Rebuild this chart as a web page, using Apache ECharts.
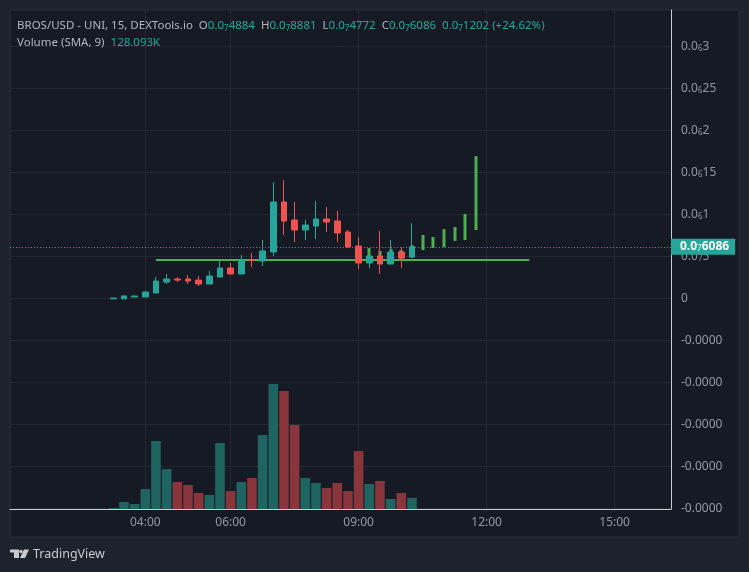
<!DOCTYPE html>
<html>
<head>
<meta charset="utf-8">
<style>html,body{margin:0;padding:0;background:#1e222d}#chart{width:749px;height:572px}</style>
<script src="https://cdn.jsdelivr.net/npm/echarts@6/dist/echarts.min.js"></script>
</head>
<body>
<div id="chart"></div>
<script>
// prices are in units of 1e-7 USD, volume in K
const times = ['03:15','03:30','03:45','04:00','04:15','04:30','04:45','05:00','05:15','05:30',
  '05:45','06:00','06:15','06:30','06:45','07:00','07:15','07:30','07:45','08:00',
  '08:15','08:30','08:45','09:00','09:15','09:30','09:45','10:00','10:15'];
const opens = [-0.1,-0.1,0.12,0.12,0.6,1.9,2.26,2.26,2.14,1.67,2.5,3.57,2.86,4.52,4.4,5.48,11.43,9.29,8.1,8.57,9.4,9.17,7.86,6.19,4.17,5.0,4.05,5.48,4.884];
const closes = [0,0.25,0.24,0.71,2.02,2.26,2.14,2.02,1.67,2.62,3.57,2.86,4.52,4.45,5.6,11.43,9.17,8.1,8.69,9.4,9.05,7.74,6.07,4.17,5.0,4.05,5.48,4.76,6.086];
const lows = [-0.1,-0.1,0.12,0.12,0.6,1.67,1.9,1.67,1.43,1.67,2.5,2.86,2.86,3.69,3.8,5.0,7.5,6.67,6.9,7.0,7.86,6.67,6.0,3.45,3.57,2.86,4.05,3.57,4.772];
const highs = [0,0.25,0.24,0.87,2.5,2.86,2.5,2.74,2.62,3.21,4.4,4.17,5.12,5.36,6.9,13.8,14.05,11.43,9.29,11.55,10.83,10.36,8.1,7.26,5.0,7.98,6.9,6.03,8.881];
const volumes = [5,38,27,108,368,216,146,130,87,76,357,97,146,168,400,676,639,455,168,141,114,141,97,314,135,152,54,87,60];

const greenTimes = ['09:15','09:30','09:45','10:00','10:15','10:30','10:45','11:00','11:15','11:30','11:45'];
const greenBottoms = [4.6,4.6,4.8,4.5,4.8,5.7,5.95,6.07,6.8,6.9,8.1];
const greenTops = [5.95,5.6,5.83,5.7,6.3,7.5,7.26,8.2,8.45,10.0,16.9];

const levelTimes = ['04:15','13:00'];
const levelValue = 4.52;
const lastPrice = 6.086;

const yTicks = [30,25,20,15,10,5,0,-5,-10,-15,-20,-25];
const yTickLabels = ['0.0{s|6}3','0.0{s|6}25','0.0{s|6}2','0.0{s|6}15','0.0{s|6}1','0.0{s|7}5','0','-0.0000','-0.0000','-0.0000','-0.0000','-0.0000'];
const xTickLabels = ['04:00','06:00','09:00','12:00','15:00'];

const UP = '#26a69a', DOWN = '#ef5350', GREEN = '#4caf50';
const VOL_UP = '#206462', VOL_DOWN = '#88363c';
const TEXT = '#b2b5be', AXIS_TEXT = '#9598a1', GRID = '#242833', FONT = '"Noto Sans", sans-serif';

const minutes = t => { const p = t.split(':'); return p[0] * 60 + +p[1]; };
const hhmm = m => String(Math.floor(m / 60)).padStart(2, '0') + ':' + String(m % 60).padStart(2, '0');

const chart = echarts.init(document.getElementById('chart'));

const sub = { fontSize: 8, fontWeight: 'normal', fontFamily: FONT, color: UP, verticalAlign: 'bottom', lineHeight: 14 };
const gray = { fontSize: 11.5, fontWeight: 'normal', fontFamily: FONT, color: TEXT, lineHeight: 14 };
const teal = { fontSize: 11.5, fontWeight: 'normal', fontFamily: FONT, color: UP, lineHeight: 14 };

chart.setOption({
  animation: false,
  backgroundColor: '#1e222d',
  title: [
    {
      left: 17, top: 19, padding: 0,
      text: '{g|BROS/USD - UNI, 15, DEXTools.io  O}{t|0.0}{s|7}{t|4884}{g|  H}{t|0.0}{s|7}{t|8881}{g|  L}{t|0.0}{s|7}{t|4772}{g|  C}{t|0.0}{s|7}{t|6086}{t|  0.0}{s|7}{t|1202 (+24.62%)}',
      textStyle: { rich: { g: gray, t: teal, s: sub } }
    },
    {
      left: 17, top: 36, padding: 0,
      text: '{g|Volume (SMA, 9)}{t|  128.093K}',
      textStyle: { rich: { g: gray, t: teal } }
    }
  ],
  grid: { left: 10, right: 78, top: 10, bottom: 63 },
  xAxis: {
    type: 'value',
    min: 49.7,
    max: 979.3,
    axisLine: { show: true, onZero: false, lineStyle: { color: '#c8cad0', width: 1 } },
    axisTick: { show: false, customValues: xTickLabels.map(minutes) },
    axisLabel: {
      customValues: xTickLabels.map(minutes),
      formatter: v => hhmm(v),
      color: AXIS_TEXT, fontSize: 12, fontFamily: FONT, margin: 8
    },
    splitLine: { show: true, lineStyle: { color: GRID, width: 1 } }
  },
  yAxis: [
    {
      type: 'value',
      position: 'right',
      min: -25.12,
      max: 34.29,
      axisLine: { show: true, onZero: false, lineStyle: { color: '#c8cad0', width: 1 } },
      axisTick: { show: false, customValues: yTicks },
      axisLabel: {
        customValues: yTicks,
        formatter: v => yTickLabels[yTicks.indexOf(v)],
        color: AXIS_TEXT, fontSize: 12, fontFamily: FONT, margin: 10, padding: [2, 0, 0, 0],
        rich: { s: { fontSize: 8, fontFamily: FONT, color: AXIS_TEXT, verticalAlign: 'bottom' } }
      },
      splitLine: { show: true, lineStyle: { color: GRID, width: 1 } }
    },
    { type: 'value', min: 0, max: 2700, show: false, splitLine: { show: false } }
  ],
  series: [
    {
      type: 'bar',
      yAxisIndex: 1,
      barWidth: 9.6,
      z: 2,
      data: times.map((t, i) => ({
        value: [minutes(t), volumes[i]],
        itemStyle: { color: closes[i] >= opens[i] ? VOL_UP : VOL_DOWN }
      }))
    },
    {
      type: 'line',
      showSymbol: false,
      z: 3,
      lineStyle: { color: GREEN, width: 2 },
      data: levelTimes.map(t => [minutes(t), levelValue])
    },
    {
      type: 'candlestick',
      barWidth: 3.5,
      z: 4,
      itemStyle: { color: GREEN, color0: GREEN, borderColor: GREEN, borderColor0: GREEN, borderWidth: 0 },
      data: greenTimes.map((t, i) => [minutes(t), greenBottoms[i], greenTops[i], greenBottoms[i], greenTops[i]])
    },
    {
      type: 'candlestick',
      barWidth: 6,
      z: 5,
      itemStyle: { color: UP, color0: DOWN, borderColor: UP, borderColor0: DOWN, borderWidth: 1 },
      data: times.map((t, i) => [minutes(t), opens[i], closes[i], lows[i], highs[i]]),
      markLine: {
        silent: true,
        symbol: 'none',
        z: 6,
        lineStyle: { color: UP, type: [1, 2], width: 1 },
        label: {
          position: 'end',
          distance: 0,
          formatter: '{v|0.0}{s|7}{v|6086}',
          backgroundColor: UP,
          padding: [2, 6, 2, 9],
          rich: {
            v: { color: '#fff', fontSize: 12, fontFamily: FONT, fontWeight: 'bold' },
            s: { color: '#fff', fontSize: 8, fontFamily: FONT, verticalAlign: 'bottom' }
          }
        },
        data: [{ yAxis: lastPrice }]
      }
    }
  ],
  graphic: [
    {
      type: 'rect', z: -1, silent: true,
      shape: { x: 10, y: 10, width: 729, height: 527 },
      style: { fill: '#161a25', stroke: '#2a2e39', lineWidth: 1 }
    },
    {
      type: 'polygon', silent: true,
      shape: { points: [[10, 549.5], [19, 549.5], [19, 558], [14, 558], [14, 552.5], [10, 552.5]] },
      style: { fill: '#c8cad0' }
    },
    {
      type: 'circle', silent: true,
      shape: { cx: 21, cy: 551.5, r: 1.7 },
      style: { fill: '#c8cad0' }
    },
    {
      type: 'polygon', silent: true,
      shape: { points: [[24, 549.5], [29, 549.5], [25, 558], [20, 558]] },
      style: { fill: '#c8cad0' }
    },
    {
      type: 'text', silent: true, left: 33, top: 548,
      style: { text: 'TradingView', fill: '#c8cad0', font: '12.5px ' + FONT }
    }
  ]
});
</script>
</body>
</html>
